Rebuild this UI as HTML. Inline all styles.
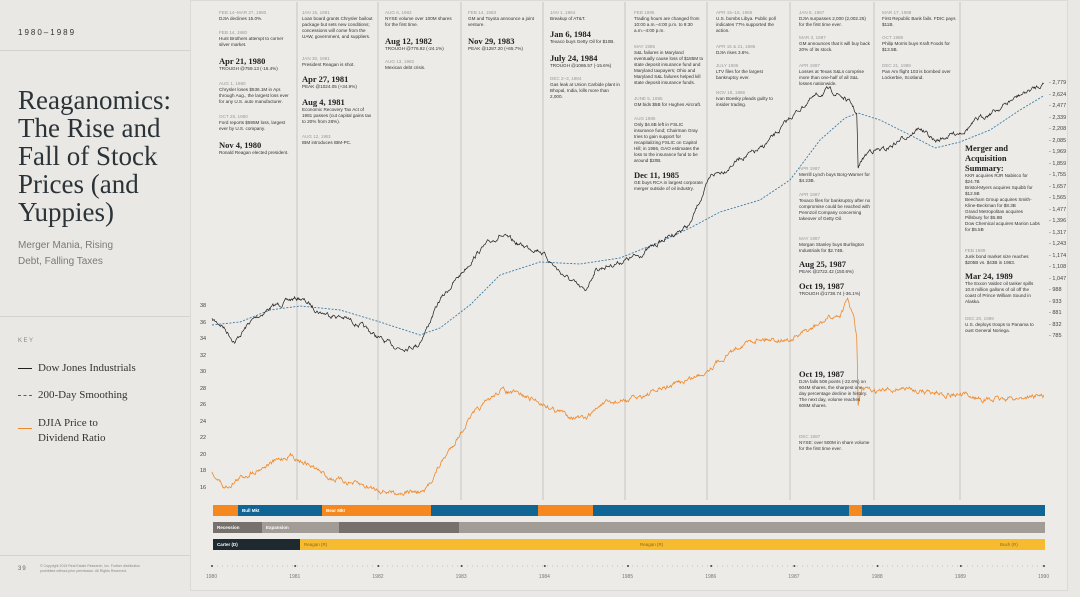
<!DOCTYPE html>
<html><head><meta charset="utf-8"><style>
*{margin:0;padding:0;box-sizing:border-box}
body{width:1080px;height:597px;background:#e9e8e5;font-family:"Liberation Sans",sans-serif;position:relative;overflow:hidden;color:#2a2a2a}
.ab{position:absolute}
.n{position:absolute;font-size:4.6px;line-height:6px;color:#333}
.n .d{color:#9a9a9a;display:block}
.n b{font-family:"Liberation Serif",serif;font-size:8.5px;line-height:10px;font-weight:bold;color:#222;display:block}
.ttl{font-family:"Liberation Serif",serif;font-size:27px;line-height:28px;color:#2b3338}
.yl{position:absolute;font-size:5.5px;color:#444}
.bar{position:absolute;height:11px;font-size:4.5px;color:#fff;line-height:11px;padding-left:4px;font-weight:bold}
</style></head><body>
<div class="ab" style="left:190px;top:0;width:878px;height:591px;background:#ecebe8;border:1px solid #dcdad6"></div>
<div class="ab" style="left:18px;top:28px;font-size:8px;letter-spacing:2px;color:#333">1980–1989</div>
<div class="ab" style="left:0;top:50px;width:190px;border-top:1px solid #d4d2ce"></div>
<div class="ab ttl" style="left:18px;top:86px">Reaganomics:<br>The Rise and<br>Fall of Stock<br>Prices (and<br>Yuppies)</div>
<div class="ab" style="left:18px;top:238px;font-size:10px;line-height:16px;color:#7a7a7a">Merger Mania, Rising<br>Debt, Falling Taxes</div>
<div class="ab" style="left:0;top:316px;width:190px;border-top:1px solid #d4d2ce"></div>
<div class="ab" style="left:18px;top:338px;font-size:6px;letter-spacing:1.5px;color:#888">KEY</div>
<div class="ab" style="left:18px;top:368px;width:14px;border-top:1.5px solid #222"></div>
<div class="ab" style="left:38px;top:362px;font-family:'Liberation Serif',serif;font-size:11px;color:#333">Dow Jones Industrials</div>
<div class="ab" style="left:18px;top:395px;width:14px;border-top:1.5px dashed #2e6d96"></div>
<div class="ab" style="left:38px;top:389px;font-family:'Liberation Serif',serif;font-size:11px;color:#333">200-Day Smoothing</div>
<div class="ab" style="left:18px;top:428px;width:14px;border-top:1.5px solid #f0892a"></div>
<div class="ab" style="left:38px;top:416px;font-family:'Liberation Serif',serif;font-size:11px;line-height:15px;color:#333">DJIA Price to<br>Dividend Ratio</div>
<div class="ab" style="left:0;top:555px;width:190px;border-top:1px solid #d4d2ce"></div>
<div class="ab" style="left:18px;top:566px;font-size:6px;letter-spacing:1px;color:#666">39</div>
<div class="ab" style="left:40px;top:564px;font-size:3.5px;line-height:5px;color:#888">© Copyright 2015 Real Estate Research, Inc. Further distribution<br>prohibited without prior permission. All Rights Reserved.</div>

<svg class="ab" style="left:0;top:0" width="1080" height="597">
<g stroke="#c6c4c0" stroke-width="1">
<line x1="297" y1="2" x2="297" y2="500"/><line x1="378" y1="2" x2="378" y2="500"/><line x1="461" y1="2" x2="461" y2="500"/><line x1="543" y1="2" x2="543" y2="500"/><line x1="625" y1="2" x2="625" y2="500"/><line x1="707" y1="2" x2="707" y2="500"/><line x1="790" y1="2" x2="790" y2="500"/><line x1="874" y1="2" x2="874" y2="500"/><line x1="960" y1="2" x2="960" y2="500"/>
</g>
<line x1="212" y1="566" x2="1045" y2="566" stroke="#999" stroke-width="0.6" stroke-dasharray="1,4"/>
<path id="sm" fill="none" stroke="#3d7ba3" stroke-width="0.9" stroke-dasharray="2,1.5"/>
<path id="dow" fill="none" stroke="#1e1e1e" stroke-width="0.7"/>
<path id="pd" fill="none" stroke="#f0892a" stroke-width="0.8"/>
<g id="ticks" fill="#444"></g>
</svg>

<div id="yl"></div>
<div id="xl"></div>

<div class="bar" style="left:213px;top:505px;width:25px;background:#f5891f"></div>
<div class="bar" style="left:238px;top:505px;width:84px;background:#0f6593">Bull Mkt</div>
<div class="bar" style="left:322px;top:505px;width:109px;background:#f5891f">Bear Mkt</div>
<div class="bar" style="left:431px;top:505px;width:107px;background:#0f6593"></div>
<div class="bar" style="left:538px;top:505px;width:55px;background:#f5891f"></div>
<div class="bar" style="left:593px;top:505px;width:256px;background:#0f6593"></div>
<div class="bar" style="left:849px;top:505px;width:13px;background:#f5891f"></div>
<div class="bar" style="left:862px;top:505px;width:183px;background:#0f6593"></div>
<div class="bar" style="left:213px;top:522px;width:49px;background:#77716d">Recession</div>
<div class="bar" style="left:262px;top:522px;width:77px;background:#a29c97">Expansion</div>
<div class="bar" style="left:339px;top:522px;width:120px;background:#77716d"></div>
<div class="bar" style="left:459px;top:522px;width:586px;background:#a29c97"></div>
<div class="bar" style="left:213px;top:539px;width:87px;background:#1f2a30">Carter (D)</div>
<div class="bar" style="left:300px;top:539px;width:745px;background:#f7bb2f;color:#8a6a20;font-weight:normal">Reagan (R)</div>
<div class="ab" style="left:640px;top:539px;font-size:4.5px;line-height:11px;color:#8a6a20">Reagan (R)</div>
<div class="ab" style="left:1000px;top:539px;font-size:4.5px;line-height:11px;color:#8a6a20">Bush (R)</div>

<div class="n" style="left:219px;top:10px;width:75px"><span class="d">FEB 14–MAR 27, 1980</span>DJIA declines 15.0%.</div>
<div class="n" style="left:219px;top:30px;width:75px"><span class="d">FEB 14, 1980</span>Hunt Brothers attempt to corner silver market.</div>
<div class="n" style="left:219px;top:56px;width:75px"><b>Apr 21, 1980</b>TROUGH @759.13 (-16.4%)</div>
<div class="n" style="left:219px;top:81px;width:75px"><span class="d">AUG 1, 1980</span>Chrysler loses $536.1M in Apr. through Aug., the largest loss ever for any U.S. auto manufacturer.</div>
<div class="n" style="left:219px;top:114px;width:75px"><span class="d">OCT 28, 1980</span>Ford reports $595M loss, largest ever by U.S. company.</div>
<div class="n" style="left:219px;top:140px;width:75px"><b>Nov 4, 1980</b>Ronald Reagan elected president.</div>
<div class="n" style="left:302px;top:10px;width:73px"><span class="d">JAN 15, 1981</span>Loan board grants Chrysler bailout package but sets new conditions; concessions will come from the UAW, government, and suppliers.</div>
<div class="n" style="left:302px;top:56px;width:73px"><span class="d">JAN 30, 1981</span>President Reagan is shot.</div>
<div class="n" style="left:302px;top:74px;width:73px"><b>Apr 27, 1981</b>PEAK @1024.05 (+34.9%)</div>
<div class="n" style="left:302px;top:97px;width:73px"><b>Aug 4, 1981</b>Economic Recovery Tax Act of 1981 passes (cut capital gains tax to 20% from 28%).</div>
<div class="n" style="left:302px;top:134px;width:73px"><span class="d">AUG 12, 1981</span>IBM introduces IBM-PC.</div>
<div class="n" style="left:385px;top:10px;width:73px"><span class="d">AUG 6, 1982</span>NYSE volume over 100M shares for the first time.</div>
<div class="n" style="left:385px;top:36px;width:73px"><b>Aug 12, 1982</b>TROUGH @776.92 (-24.1%)</div>
<div class="n" style="left:385px;top:59px;width:73px"><span class="d">AUG 13, 1982</span>Mexican debt crisis.</div>
<div class="n" style="left:468px;top:10px;width:73px"><span class="d">FEB 14, 1983</span>GM and Toyota announce a joint venture.</div>
<div class="n" style="left:468px;top:36px;width:73px"><b>Nov 29, 1983</b>PEAK @1287.20 (+65.7%)</div>
<div class="n" style="left:550px;top:10px;width:73px"><span class="d">JAN 1, 1984</span>Breakup of AT&amp;T.</div>
<div class="n" style="left:550px;top:29px;width:73px"><b>Jan 6, 1984</b>Texaco buys Getty Oil for $10B.</div>
<div class="n" style="left:550px;top:53px;width:73px"><b>July 24, 1984</b>TROUGH @1086.57 (-15.6%)</div>
<div class="n" style="left:550px;top:76px;width:73px"><span class="d">DEC 2–3, 1984</span>Gas leak at Union Carbide plant in Bhopal, India, kills more than 2,000.</div>
<div class="n" style="left:634px;top:10px;width:70px"><span class="d">FEB 1985</span>Trading hours are changed from 10:00 a.m.–4:00 p.m. to 9:30 a.m.–4:00 p.m.</div>
<div class="n" style="left:634px;top:44px;width:70px"><span class="d">MAY 1985</span>S&amp;L failures in Maryland eventually cause loss of $185M to state deposit insurance fund and Maryland taxpayers; Ohio and Maryland S&amp;L failures helped kill state deposit insurance funds.</div>
<div class="n" style="left:634px;top:96px;width:70px"><span class="d">JUNE 5, 1985</span>GM bids $5B for Hughes Aircraft.</div>
<div class="n" style="left:634px;top:116px;width:70px"><span class="d">AUG 1985</span>Only $4.6B left in FSLIC insurance fund; Chairman Gray tries to gain support for recapitalizing FSLIC on Capitol Hill; in 1986, GAO estimates the loss to the insurance fund to be around $20B.</div>
<div class="n" style="left:634px;top:170px;width:70px"><b>Dec 11, 1985</b>GE buys RCA in largest corporate merger outside of oil industry.</div>
<div class="n" style="left:716px;top:10px;width:70px"><span class="d">APR 15–16, 1986</span>U.S. bombs Libya. Public poll indicates 77% supported the action.</div>
<div class="n" style="left:716px;top:44px;width:70px"><span class="d">APR 15 &amp; 21, 1986</span>DJIA rises 3.6%.</div>
<div class="n" style="left:716px;top:63px;width:70px"><span class="d">JULY 1986</span>LTV files for the largest bankruptcy ever.</div>
<div class="n" style="left:716px;top:90px;width:70px"><span class="d">NOV 18, 1986</span>Ivan Boesky pleads guilty to insider trading.</div>
<div class="n" style="left:799px;top:10px;width:72px"><span class="d">JAN 8, 1987</span>DJIA surpasses 2,000 (2,002.25) for the first time ever.</div>
<div class="n" style="left:799px;top:35px;width:72px"><span class="d">MAR 3, 1987</span>GM announces that it will buy back 20% of its stock.</div>
<div class="n" style="left:799px;top:63px;width:72px"><span class="d">APR 1987</span>Losses at Texas S&amp;Ls comprise more than one-half of all S&amp;L losses nationwide.</div>
<div class="n" style="left:799px;top:166px;width:72px"><span class="d">APR 1987</span>Merrill Lynch buys Borg-Warner for $4.23B.</div>
<div class="n" style="left:799px;top:192px;width:72px"><span class="d">APR 1987</span>Texaco files for bankruptcy after no compromise could be reached with Pennzoil Company concerning takeover of Getty Oil.</div>
<div class="n" style="left:799px;top:236px;width:72px"><span class="d">MAY 1987</span>Morgan Stanley buys Burlington Industrials for $2.74B.</div>
<div class="n" style="left:799px;top:259px;width:72px"><b>Aug 25, 1987</b>PEAK @2722.42 (150.6%)</div>
<div class="n" style="left:799px;top:281px;width:72px"><b>Oct 19, 1987</b>TROUGH @1738.74 (-36.1%)</div>
<div class="n" style="left:799px;top:369px;width:72px"><b>Oct 19, 1987</b>DJIA falls 508 points (-22.6%) on 604M shares, the sharpest one-day percentage decline in history. The next day, volume reaches 608M shares.</div>
<div class="n" style="left:799px;top:434px;width:72px"><span class="d">DEC 1987</span>NYSE: over 500M in share volume for the first time ever.</div>
<div class="n" style="left:882px;top:10px;width:75px"><span class="d">MAR 17, 1988</span>First Republic Bank fails. FDIC pays $11B.</div>
<div class="n" style="left:882px;top:35px;width:75px"><span class="d">OCT 1988</span>Philip Morris buys Kraft Foods for $13.5B.</div>
<div class="n" style="left:882px;top:63px;width:75px"><span class="d">DEC 21, 1988</span>Pan Am flight 103 is bombed over Lockerbie, Scotland.</div>
<div class="n" style="left:965px;top:143px;width:76px"><b>Merger and Acquisition Summary:</b>KKR acquires RJR Nabisco for $24.7B<br>Bristol-Myers acquires Squibb for $12.5B<br>Beecham Group acquires Smith-Kline-Beckman for $8.3B<br>Grand Metropolitan acquires Pillsbury for $5.8B<br>Dow Chemical acquires Marion Labs for $5.5B</div>
<div class="n" style="left:965px;top:248px;width:76px"><span class="d">FEB 1989</span>Junk bond market size reaches $205B vs. $43B in 1983.</div>
<div class="n" style="left:965px;top:271px;width:76px"><b>Mar 24, 1989</b>The Exxon Valdez oil tanker spills 10.8 million gallons of oil off the coast of Prince William Sound in Alaska.</div>
<div class="n" style="left:965px;top:316px;width:76px"><span class="d">DEC 20, 1989</span>U.S. deploys troops to Panama to oust General Noriega.</div>

<script>
var seed=7;function r(){seed=(seed*16807)%2147483647;return seed/2147483647-0.5;}
function series(pts,amp,step){var d='',x0=pts[0][0],x1=pts[pts.length-1][0],w=0;
for(var x=x0;x<=x1;x+=step){var i=0;while(i<pts.length-2&&pts[i+1][0]<x)i++;var a=pts[i],b=pts[i+1];var t=(x-a[0])/(b[0]-a[0]);if(t>1)t=1;var y=a[1]+(b[1]-a[1])*t;w=w*0.75+r()*amp;d+=(d?'L':'M')+x.toFixed(1)+','+(y+w).toFixed(1);}return d;}
var dow=[[212,320],[222,325],[235,342],[250,322],[270,308],[290,300],[300,298],[320,312],[345,318],[360,325],[385,342],[400,348],[418,345],[425,332],[440,300],[460,275],[480,250],[500,235],[520,245],[540,250],[560,272],[585,292],[595,270],[620,262],[640,255],[655,245],[670,236],[690,225],[700,200],[712,175],[725,170],[740,158],[760,150],[780,130],[790,118],[810,100],[828,90],[840,95],[852,105],[857,115],[858,170],[862,160],[870,150],[885,150],[900,140],[920,128],[935,142],[950,135],[965,130],[980,118],[1000,108],[1020,95],[1035,88],[1044,83]];
var sm=[[212,325],[240,322],[270,310],[300,306],[340,310],[380,322],[420,335],[440,328],[470,305],[500,275],[540,262],[580,264],[620,258],[660,242],[690,228],[720,212],[760,200],[790,180],[820,140],[845,118],[858,113],[880,120],[910,135],[935,148],[960,142],[990,130],[1020,110],[1045,95]];
var pd=[[212,472],[225,488],[240,478],[260,468],[290,455],[305,462],[330,478],[360,485],[390,492],[425,492],[440,465],[470,418],[500,390],[520,395],[540,402],[560,412],[585,420],[600,405],[630,400],[660,390],[700,375],[720,360],[740,345],[760,338],[790,340],[810,330],[830,318],[840,315],[848,300],[854,320],[857,340],[858,405],[862,390],[880,392],[900,388],[930,392],[960,395],[990,400],[1020,398],[1044,395]];
document.getElementById('dow').setAttribute('d',series(dow,3.6,0.7));
document.getElementById('sm').setAttribute('d',series(sm,0,2));
document.getElementById('pd').setAttribute('d',series(pd,3.8,0.7));
var R=['2,779','2,624','2,477','2,339','2,208','2,085','1,969','1,859','1,755','1,657','1,565','1,477','1,396','1,317','1,243','1,174','1,108','1,047','988','933','881','832','785'];
var h='';R.forEach(function(s,i){h+='<div class="yl" style="left:1049px;top:'+(80+i*11.5)+'px">- '+s+'</div>';});
for(var i=0;i<12;i++){h+='<div class="yl" style="left:200px;top:'+(303+i*16.5)+'px">'+(38-2*i)+'</div>';}
document.getElementById('yl').innerHTML=h;
var x='',t='';for(var y=0;y<=10;y++){var xx=212+y*83.2;x+='<div class="yl" style="left:'+(xx-6)+'px;top:574px;font-size:5px;color:#777">'+(1980+y)+'</div>';t+='<circle cx="'+xx+'" cy="566" r="1"/>';}
document.getElementById('xl').innerHTML=x;document.getElementById('ticks').innerHTML=t;
</script>
</body></html>
